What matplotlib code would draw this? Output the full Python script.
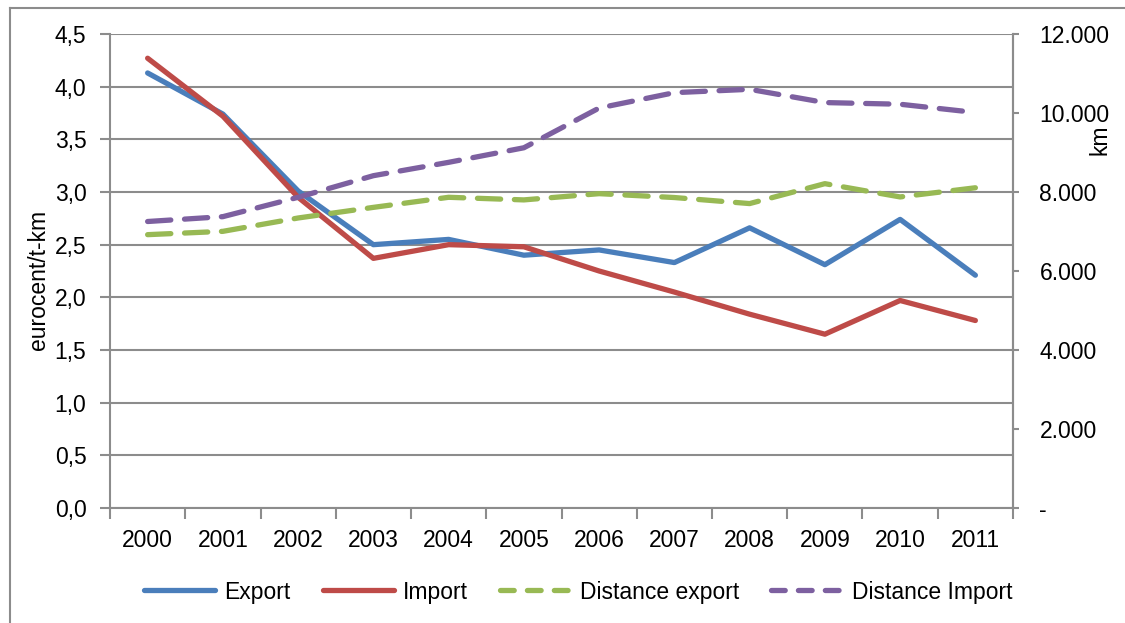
import matplotlib
matplotlib.use("Agg")
import matplotlib.pyplot as plt
from matplotlib.lines import Line2D
from matplotlib.ticker import FixedLocator, FuncFormatter

plt.rcParams['font.family'] = ['Liberation Sans', 'DejaVu Sans']

# Data
years = ['2000', '2001', '2002', '2003', '2004', '2005',
         '2006', '2007', '2008', '2009', '2010', '2011']
export_cost = [4.13, 3.74, 3.01, 2.50, 2.55, 2.40, 2.45, 2.33, 2.66, 2.31, 2.74, 2.21]
import_cost = [4.27, 3.72, 2.95, 2.37, 2.50, 2.48, 2.25, 2.05, 1.84, 1.65, 1.97, 1.78]
distance_export = [6920, 7004, 7342, 7611, 7866, 7800, 7958, 7860, 7707, 8211, 7875, 8107]
distance_import = [7253, 7376, 7866, 8413, 8751, 9120, 10126, 10515, 10600, 10264, 10222, 10013]

C_EXPORT = '#4A7EBB'
C_IMPORT = '#BE4B48'
C_DEXP = '#98B954'
C_DIMP = '#7D60A0'
GRID = '#8C8C8C'
FS = 16.5
LW = 3.8
DASH = (4.4, 2.6)

fig = plt.figure(figsize=(11.25, 6.23), dpi=100)
ax = fig.add_axes([110 / 1125, 1 - 508 / 623, (1013 - 110) / 1125, (508 - 34) / 623])
ax2 = ax.twinx()

x = list(range(len(years)))

ax.plot(x, export_cost, color=C_EXPORT, lw=LW, solid_capstyle='round',
        solid_joinstyle='round', zorder=4)
ax.plot(x, import_cost, color=C_IMPORT, lw=LW, solid_capstyle='round',
        solid_joinstyle='round', zorder=4)
ax2.plot(x, distance_export, color=C_DEXP, lw=LW, dashes=DASH,
         dash_capstyle='round', dash_joinstyle='round')
ax2.plot(x, distance_import, color=C_DIMP, lw=LW, dashes=DASH,
         dash_capstyle='round', dash_joinstyle='round')

# Left axis
ax.set_xlim(-0.5, len(years) - 0.5)
ax.set_ylim(0, 4.5)
ax.set_yticks([i * 0.5 for i in range(10)])
ax.yaxis.set_major_formatter(FuncFormatter(lambda v, p: f"{v:.1f}".replace('.', ',')))
ax.yaxis.grid(True, color=GRID, lw=1.5)
ax.set_axisbelow(True)
ax.tick_params(axis='y', length=7, width=1.5, color=GRID, pad=10, labelsize=FS)

# X axis: labels at category centres, ticks at boundaries
ax.set_xticks(x)
ax.set_xticklabels(years)
ax.xaxis.set_minor_locator(FixedLocator([i - 0.5 for i in range(len(years) + 1)]))
ax.tick_params(axis='x', which='major', length=0, pad=15, labelsize=FS)
ax.tick_params(axis='x', which='minor', length=8, width=1.5, color=GRID)

for side in ['left', 'bottom', 'right']:
    ax.spines[side].set_color(GRID)
    ax.spines[side].set_linewidth(1.5)
ax.spines['top'].set_visible(False)

# Right axis
ax2.set_ylim(0, 12000)
ax2.set_yticks(range(0, 12001, 2000))
ax2.yaxis.set_major_formatter(
    FuncFormatter(lambda v, p: '-' if v == 0 else f"{int(v):,}".replace(',', '.')))
ax2.tick_params(axis='y', length=4, width=1.5, color=GRID, pad=15, labelsize=FS)
for side in ['left', 'bottom', 'top']:
    ax2.spines[side].set_visible(False)
ax2.spines['right'].set_color(GRID)
ax2.spines['right'].set_linewidth(1.5)
for lbl in ax2.get_yticklabels():
    lbl.set_horizontalalignment('left')

# Axis titles
fig.text(38 / 1125, 1 - 280 / 623, 'eurocent/t-km', rotation=90, fontsize=FS,
         ha='center', va='center')
fig.text(1100 / 1125, 1 - 140 / 623, 'km', rotation=90, fontsize=FS,
         ha='center', va='center')

# Legend
handles = [
    Line2D([], [], color=C_EXPORT, lw=LW, solid_capstyle='round'),
    Line2D([], [], color=C_IMPORT, lw=LW, solid_capstyle='round'),
    Line2D([], [], color=C_DEXP, lw=LW, dashes=(2.6, 2.5), dash_capstyle='round'),
    Line2D([], [], color=C_DIMP, lw=LW, dashes=(2.6, 2.5), dash_capstyle='round'),
]
labels = ['Export', 'Import', 'Distance export', 'Distance Import']
fig.legend(handles, labels, loc='center', bbox_to_anchor=(578 / 1125, 1 - 592 / 623),
           ncol=4, frameon=False, fontsize=FS, handlelength=3.1, handletextpad=0.4,
           columnspacing=1.4)

# Outer chart frame
fig.add_artist(Line2D([10 / 1125, 10 / 1125], [0, 1 - 8 / 623], color=GRID, lw=1.5,
                      transform=fig.transFigure))
fig.add_artist(Line2D([10 / 1125, 1], [1 - 8 / 623, 1 - 8 / 623], color=GRID, lw=1.5,
                      transform=fig.transFigure))

fig.savefig('out.png', dpi=100, facecolor='white')
